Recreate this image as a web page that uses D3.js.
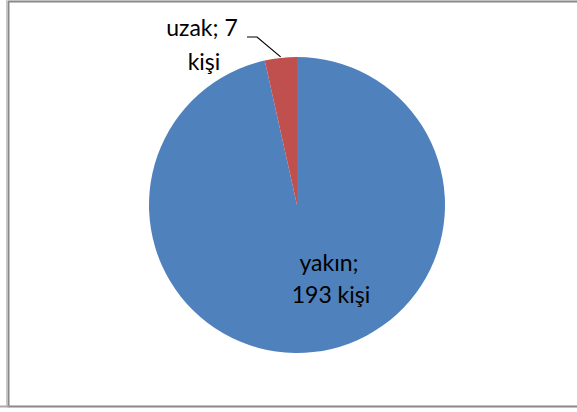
<!DOCTYPE html>
<html>
<head>
<meta charset="utf-8">
<script src="https://cdn.jsdelivr.net/npm/d3@7"></script>
<style>
  body { margin: 0; background: #fff; }
  svg { display: block; font-family: Lato, "Open Sans", sans-serif; }
</style>
</head>
<body>
<svg id="chart" width="577" height="412"></svg>
<script>
// data
var categories = ["yakın", "uzak"];
var values = [193, 7];
var colors = ["#4F81BD", "#C0504D"];

var svg = d3.select("#chart");
var cx = 297, cy = 205, r = 148;

// frame
svg.append("line").attr("x1", 6.5).attr("x2", 6.5).attr("y1", 0).attr("y2", 407)
  .attr("stroke", "#c8c8c8").attr("stroke-width", 1);
svg.append("path")
  .attr("d", "M 578 1.5 L 8.5 1.5 L 8.5 406.5 L 578 406.5")
  .attr("fill", "none").attr("stroke", "#888").attr("stroke-width", 2);
svg.append("line").attr("x1", 0).attr("x2", 9).attr("y1", 406.5).attr("y2", 406.5)
  .attr("stroke", "#aaa").attr("stroke-width", 2);

var pie = d3.pie().sort(null).value(d => d);
var arc = d3.arc().innerRadius(0).outerRadius(r);
var arcs = pie(values);

var g = svg.append("g").attr("transform", `translate(${cx},${cy})`);
g.selectAll("path.slice")
  .data(arcs)
  .join("path")
  .attr("class", "slice")
  .attr("d", arc)
  .attr("fill", (d, i) => colors[i]);

// labels
var fs = 23;
svg.append("text").attr("x", 329).attr("y", 271).attr("text-anchor", "middle")
  .attr("font-size", fs).attr("fill", "#000").text(categories[0] + ";");
svg.append("text").attr("x", 331).attr("y", 303).attr("text-anchor", "middle")
  .attr("font-size", fs).attr("fill", "#000").text(values[0] + " kişi");

svg.append("text").attr("x", 202).attr("y", 36).attr("text-anchor", "middle")
  .attr("font-size", fs).attr("fill", "#000").text(categories[1] + "; " + values[1]);
svg.append("text").attr("x", 204).attr("y", 70).attr("text-anchor", "middle")
  .attr("font-size", fs).attr("fill", "#000").text("kişi");

// leader line to the small slice
var mid = (arcs[1].startAngle + arcs[1].endAngle) / 2;
var ex = cx + Math.sin(mid) * (r + 1), ey = cy - Math.cos(mid) * (r + 1);
svg.append("polyline")
  .attr("points", `247,37 257,37 ${ex},${ey}`)
  .attr("fill", "none").attr("stroke", "#000").attr("stroke-width", 1.2);
</script>
</body>
</html>
